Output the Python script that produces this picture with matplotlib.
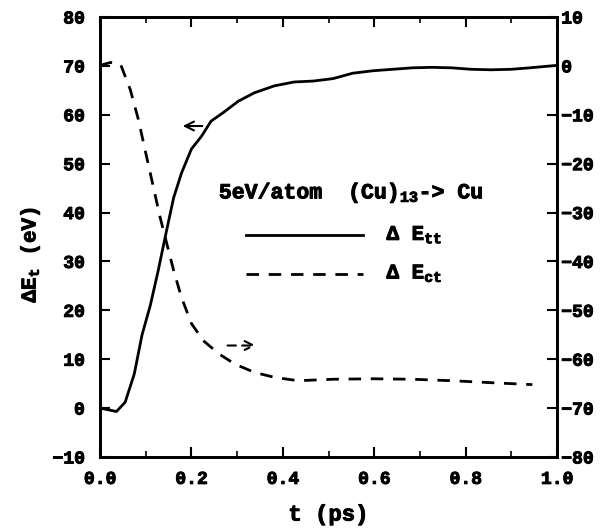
import matplotlib
matplotlib.use("Agg")
import matplotlib.pyplot as plt
import matplotlib.patheffects as pe
from matplotlib.ticker import MultipleLocator

# Solid curve: Delta E_tt (left axis, eV)
t_tt = [0.0, 0.036, 0.055, 0.075, 0.092, 0.11, 0.127, 0.144, 0.161, 0.178, 0.2,
        0.222, 0.243, 0.269, 0.303, 0.338, 0.381, 0.424, 0.467, 0.51, 0.553,
        0.597, 0.64, 0.683, 0.726, 0.77, 0.812, 0.855, 0.9, 0.94, 1.0]
e_tt = [0.0, -0.7, 1.2, 7.0, 15.0, 21.0, 28.0, 35.6, 43.0, 48.0, 53.0,
        55.6, 58.7, 60.4, 62.8, 64.5, 65.9, 66.7, 66.9, 67.4, 68.5,
        69.0, 69.3, 69.6, 69.7, 69.6, 69.3, 69.2, 69.3, 69.6, 70.1]

# Dashed curve: Delta E_ct (right axis, eV)
t_ct = [0.0, 0.023, 0.045, 0.066, 0.084, 0.1, 0.118, 0.131, 0.144, 0.161, 0.178,
        0.2, 0.226, 0.26, 0.295, 0.338, 0.381, 0.433, 0.51, 0.597, 0.683,
        0.77, 0.855, 0.946]
e_ct = [0.1, 0.7, 0.3, -4.8, -11.0, -17.8, -25.3, -30.8, -35.6, -41.8, -47.3,
        -52.7, -56.2, -58.9, -61.0, -62.7, -63.7, -64.4, -64.1, -64.0, -64.1,
        -64.4, -64.8, -65.2]

x_ticks = [0.0, 0.2, 0.4, 0.6, 0.8, 1.0]
left_ticks = [-10, 0, 10, 20, 30, 40, 50, 60, 70, 80]
right_ticks = [-80, -70, -60, -50, -40, -30, -20, -10, 0, 10]

FONT = ['Liberation Mono', 'DejaVu Sans']
plt.rcParams['font.family'] = FONT
plt.rcParams['font.weight'] = 'bold'
plt.rcParams['mathtext.fontset'] = 'custom'
plt.rcParams['mathtext.rm'] = 'Liberation Mono:bold'
plt.rcParams['mathtext.bf'] = 'Liberation Mono:bold'
plt.rcParams['mathtext.it'] = 'Liberation Mono:bold'
plt.rcParams['mathtext.default'] = 'bf'

thick = [pe.withStroke(linewidth=0.7, foreground='black')]

fig = plt.figure(figsize=(6.11, 5.31), dpi=100)
ax = fig.add_axes([0.1637, 0.1394, 0.748, 0.8286])
ax2 = ax.twinx()

dash = (0, (4.5, 3.5))
ax.plot(t_tt, e_tt, color='black', lw=2.0, solid_joinstyle='round')
ax2.plot(t_ct, e_ct, color='black', lw=2.0, linestyle=dash)

ax.set_xlim(0, 1.0)
ax.set_ylim(-10, 80)
ax2.set_ylim(-80, 10)
ax.set_xticks(x_ticks)
ax.set_xticklabels(['%.1f' % v for v in x_ticks])
ax.xaxis.set_minor_locator(MultipleLocator(0.1))
ax.set_yticks(left_ticks)
ax.set_yticklabels(['\u221210' if v < 0 else str(v) for v in left_ticks])
ax2.set_yticks(right_ticks)
ax2.set_yticklabels(['\u2212%d' % -v if v < 0 else str(v) for v in right_ticks])

for a in (ax, ax2):
    a.tick_params(direction='in', length=7, width=1.5, labelsize=13)
    a.tick_params(which='minor', direction='in', length=4, width=1.2)
    for s in a.spines.values():
        s.set_linewidth(2.0)
ax.tick_params(top=True, which='both')
ax.tick_params(axis='x', pad=10)
ax.tick_params(axis='y', pad=11)
ax2.tick_params(axis='y', pad=3)
for lab in ax.get_xticklabels() + ax.get_yticklabels() + ax2.get_yticklabels():
    lab.set_fontweight('bold')
    lab.set_path_effects(thick)

ax.set_xlabel('t (ps)', fontsize=16, fontweight='bold', labelpad=12,
              path_effects=thick)
ax.set_ylabel(r'$\Delta$E$_{t}$ (eV)', fontsize=15, fontweight='bold',
              path_effects=thick)
ax.yaxis.set_label_coords(-0.128, 0.46)

# arrows
ax.annotate('', xy=(0.175, 57.7), xytext=(0.23, 57.7),
            arrowprops=dict(arrowstyle='->', color='black', lw=1.5, mutation_scale=16))
ax2.annotate('', xy=(0.347, -57.2), xytext=(0.273, -57.2),
             arrowprops=dict(arrowstyle='->', color='black', lw=1.5, mutation_scale=16,
                             linestyle=(0, (4, 3))))

# legend-like annotations
ax.text(0.26, 44, r'5eV/atom  (Cu)$_{13}$-> Cu', fontsize=15.5, fontweight='bold',
        va='center', ha='left', path_effects=thick)
ax.plot([0.32, 0.575], [35.4, 35.4], color='black', lw=2.0)
ax.plot([0.32, 0.575], [27.5, 27.5], color='black', lw=2.0, linestyle=dash)
ax.text(0.627, 35.4, r'$\Delta$ E$_{tt}$', fontsize=15, fontweight='bold', va='center',
        path_effects=thick)
ax.text(0.627, 27.5, r'$\Delta$ E$_{ct}$', fontsize=15, fontweight='bold', va='center',
        path_effects=thick)

fig.savefig('out.png', dpi=100)
